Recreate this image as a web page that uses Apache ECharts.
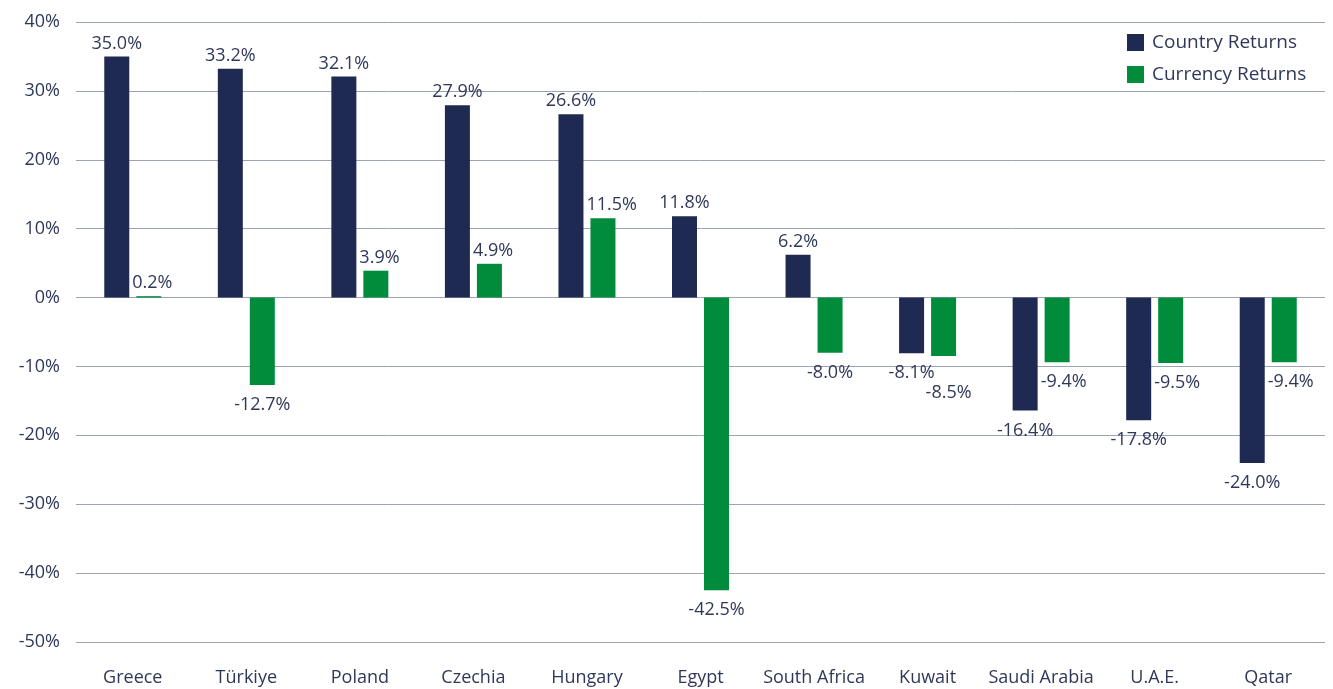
<!DOCTYPE html>
<html><head><meta charset="utf-8">
<script src="https://cdn.jsdelivr.net/npm/echarts@6/dist/echarts.min.js"></script>
<style>html,body{margin:0;padding:0;background:#fff}#c{width:1333px;height:689px}</style>
</head><body><div id="c"></div>
<script>
const categories = ['Greece','Türkiye','Poland','Czechia','Hungary','Egypt','South Africa','Kuwait','Saudi Arabia','U.A.E.','Qatar'];
const countryReturns = [35.0, 33.2, 32.1, 27.9, 26.6, 11.8, 6.2, -8.1, -16.4, -17.8, -24.0];
const currencyReturns = [0.2, -12.7, 3.9, 4.9, 11.5, -42.5, -8.0, -8.5, -9.4, -9.5, -9.4];
const yTicks = {min: -50, max: 40, interval: 10};

const textColor = '#2f3859';
const font = '"Open Sans", "Noto Sans", sans-serif';
const fw = 400;
const FS = 18;
const BW = 25;
const ctx = document.createElement('canvas').getContext('2d');
ctx.font = fw + ' ' + FS + 'px ' + font;
const fmt = v => v.toFixed(1) + '%';
function lbl(v, dx, dy){
  return { show:true, position: v>=0?'top':'bottom', distance: v>=0?4:11,
    offset:[dx||0, dy||0],
    formatter: p=>fmt(p.value), color:textColor, fontSize:FS, fontWeight:fw, fontFamily:font };
}
// currency label moves clear of the taller country bar / country label beside it
function currencyOffset(i){
  const c = countryReturns[i], r = currencyReturns[i];
  const w = ctx.measureText(fmt(r)).width;
  const blocked = (c > 0 && r >= 0 && c > r) || (c < 0 && r < 0 && c < r);
  if (blocked) return [w/2 - BW/2 - 4, 0];
  if (c < 0 && r < 0 && Math.abs(c - r) < 2.5) return [5, 17];
  return [0, 0];
}
const chart = echarts.init(document.getElementById('c'));
chart.setOption({
  animation:false,
  grid:{left:76,right:8,top:22,bottom:47,containLabel:false},
  legend:{
    orient:'vertical', left:1127, top:33, padding:0, itemWidth:17, itemHeight:17, itemGap:13, icon:'rect',
    textStyle:{color:textColor,fontSize:19,fontWeight:fw,fontFamily:font,padding:[0,0,0,3]},
    data:['Country Returns','Currency Returns']
  },
  xAxis:{type:'category',data:categories,
    axisLine:{show:false},axisTick:{show:false},
    axisLabel:{color:textColor,fontSize:FS,fontWeight:fw,fontFamily:font,margin:27,interval:0}},
  yAxis:{type:'value',min:yTicks.min,max:yTicks.max,interval:yTicks.interval,
    axisLine:{show:false},axisTick:{show:false},
    axisLabel:{formatter:'{value}%',color:textColor,fontSize:FS,fontWeight:fw,fontFamily:font,margin:16},
    splitLine:{lineStyle:{color:'#9ba3b5',width:1}}},
  series:[
    {name:'Country Returns',type:'bar',barWidth:BW,barGap:'28%',
     itemStyle:{color:'#1f2a52'},
     data:countryReturns.map(v=>({value:v,label:lbl(v)}))},
    {name:'Currency Returns',type:'bar',barWidth:BW,barGap:'28%',
     itemStyle:{color:'#008c3a'},
     data:currencyReturns.map((v,i)=>{const o=currencyOffset(i);return {value:v,label:lbl(v,o[0],o[1])};})}
  ]
});
</script></body></html>
